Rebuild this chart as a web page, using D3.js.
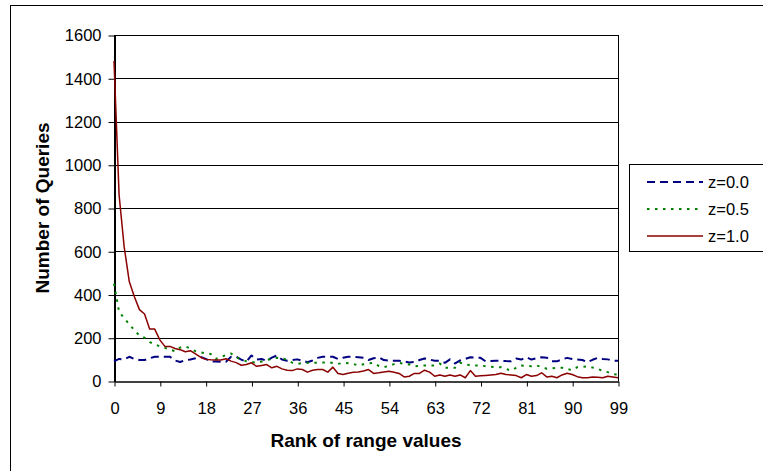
<!DOCTYPE html>
<html>
<head>
<meta charset="utf-8">
<script src="https://cdn.jsdelivr.net/npm/d3@7"></script>
<style>
  html, body { margin: 0; padding: 0; background: #fff; }
  svg { display: block; font-family: "Liberation Sans", Arial, sans-serif; }
</style>
</head>
<body>
<svg id="chart" width="763" height="471"></svg>
<script>
// Number of queries per rank of range values, for three skew settings
const ranks = d3.range(0, 100);
const xTicks = [0, 9, 18, 27, 36, 45, 54, 63, 72, 81, 90, 99];
const yTicks = [0, 200, 400, 600, 800, 1000, 1200, 1400, 1600];
const seriesNames = ["z=0.0", "z=0.5", "z=1.0"];

const z00 = [91,102,100,112,102,97,97,105,112,112,112,112,95,88,97,99,105,112,102,91,
  90,89,89,112,112,99,89,118,99,102,93,108,118,99,94,97,100,94,87,95,
  107,112,112,112,102,108,112,112,110,107,97,105,110,97,94,94,94,91,86,88,
  97,104,99,94,94,84,100,81,95,102,110,108,107,91,93,94,94,92,91,104,
  99,110,99,105,110,108,91,91,100,107,102,99,97,87,98,107,102,100,94,94];

const z05 = [450,320,290,262,235,210,200,180,170,160,153,145,138,155,160,150,138,133,128,125,
  102,111,120,127,110,100,91,88,84,90,97,102,107,104,99,85,79,84,84,84,
  84,85,87,83,79,84,82,79,72,77,81,84,70,64,70,78,84,80,76,68,
  70,72,72,72,81,61,61,61,84,78,72,72,72,68,66,64,64,56,48,61,
  72,70,68,72,64,57,59,61,61,56,50,64,66,68,62,57,46,41,32,30];

const z10 = [1480,860,620,460,390,330,310,240,240,190,160,160,150,145,135,140,125,110,100,98,
  97,97,103,92,85,73,76,84,68,72,76,61,68,56,50,48,56,53,41,50,
  53,53,41,64,35,30,36,40,42,46,53,35,38,42,45,40,35,19,22,35,
  35,50,41,22,28,22,28,22,28,15,48,22,24,26,28,30,36,30,28,25,
  15,30,22,25,38,19,22,15,28,36,30,20,15,15,19,17,15,22,19,15];

const seriesValues = [z00, z05, z10];
const seriesColors = ["#000080", "#008000", "#8b0000"];
const seriesDash = ["8,5", "2.5,5.5", null];
const seriesWidth = [2, 2, 1.5];

const tickFont = 16.5;
const titleFont = 19;
const fontFamily = "Liberation Sans, Arial, sans-serif";

const svg = d3.select("#chart");

// outer chart frame
svg.append("rect")
  .attr("x", 10.5).attr("y", 5.5)
  .attr("width", 800).attr("height", 500)
  .attr("fill", "none").attr("stroke", "#000").attr("stroke-width", 1);

const plotLeft = 114, plotRight = 618, plotTop = 35, plotBottom = 381;

const x = d3.scaleLinear().domain([0, 99]).range([plotLeft, plotRight]);
const y = d3.scaleLinear().domain([0, 1600]).range([plotBottom, plotTop]);

// horizontal grid lines
svg.append("g")
  .selectAll("line")
  .data(yTicks.filter(d => d > 0))
  .join("line")
  .attr("x1", plotLeft).attr("x2", plotRight)
  .attr("y1", d => Math.round(y(d)) + 0.5)
  .attr("y2", d => Math.round(y(d)) + 0.5)
  .attr("stroke", "#000").attr("stroke-width", 1);

// right edge of the plot area
svg.append("line")
  .attr("x1", plotRight + 0.5).attr("x2", plotRight + 0.5)
  .attr("y1", plotTop).attr("y2", plotBottom)
  .attr("stroke", "#000");

// y axis
const yAxis = svg.append("g")
  .attr("transform", `translate(${plotLeft + 0.5},0.5)`)
  .call(d3.axisLeft(y).tickValues(yTicks).tickFormat(d3.format("d"))
    .tickSize(6).tickPadding(7).tickSizeOuter(0));
yAxis.select(".domain").attr("stroke-width", 2);
yAxis.selectAll("text").attr("font-size", tickFont).attr("fill", "#000")
  .attr("font-family", fontFamily);

// x axis
const xAxis = svg.append("g")
  .attr("transform", `translate(0.5,${plotBottom + 0.5})`)
  .call(d3.axisBottom(x).tickValues(xTicks).tickFormat(d3.format("d"))
    .tickSize(5).tickPadding(16).tickSizeOuter(0));
xAxis.select(".domain").attr("stroke-width", 1.5);
xAxis.selectAll("text").attr("font-size", tickFont).attr("fill", "#000")
  .attr("font-family", fontFamily);

// axis titles
svg.append("text")
  .attr("transform", `translate(49,${(plotTop + plotBottom) / 2}) rotate(-90)`)
  .attr("text-anchor", "middle")
  .attr("font-size", titleFont).attr("font-weight", "bold")
  .text("Number of Queries");

svg.append("text")
  .attr("x", (plotLeft + plotRight) / 2).attr("y", 447)
  .attr("text-anchor", "middle")
  .attr("font-size", titleFont).attr("font-weight", "bold")
  .text("Rank of range values");

// series lines
const line = d3.line().x((d, i) => x(ranks[i])).y(d => y(d));
seriesValues.forEach((vals, k) => {
  svg.append("path")
    .datum(vals)
    .attr("d", line)
    .attr("fill", "none")
    .attr("stroke", seriesColors[k])
    .attr("stroke-width", seriesWidth[k])
    .attr("stroke-dasharray", seriesDash[k])
    .attr("stroke-linejoin", "round");
});

// legend
const lg = svg.append("g");
lg.append("rect")
  .attr("x", 629.5).attr("y", 164.5)
  .attr("width", 200).attr("height", 87)
  .attr("fill", "#fff").attr("stroke", "#000");
seriesNames.forEach((name, k) => {
  const ly = 182 + k * 27;
  lg.append("line")
    .attr("x1", 647).attr("x2", 703)
    .attr("y1", ly).attr("y2", ly)
    .attr("stroke", seriesColors[k])
    .attr("stroke-width", seriesWidth[k])
    .attr("stroke-dasharray", seriesDash[k]);
  lg.append("text")
    .attr("x", 708).attr("y", ly + 6)
    .attr("font-size", tickFont)
    .text(name);
});
</script>
</body>
</html>
